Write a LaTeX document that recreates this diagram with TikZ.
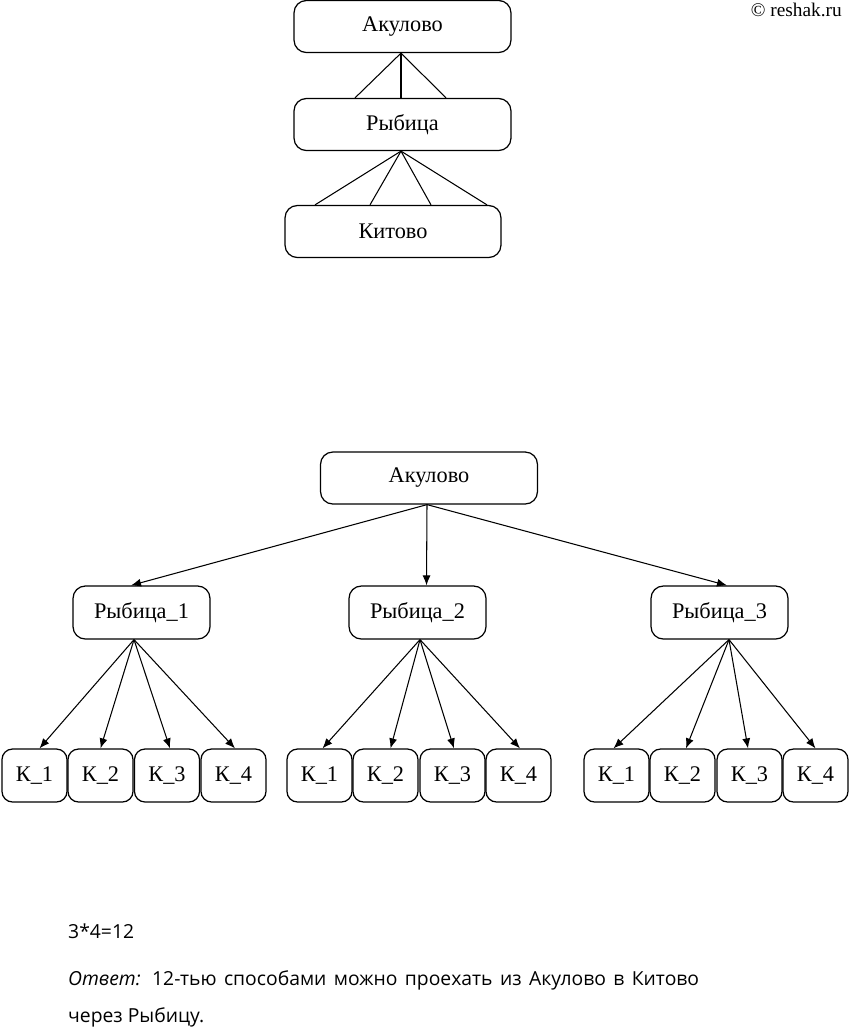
\documentclass[tikz,border=0pt]{standalone}
\usepackage{fontspec}
\setmainfont{Liberation Serif}
\newfontfamily\answerfont{Open Sans}
\usetikzlibrary{arrows.meta,calc}

\begin{document}
\begin{tikzpicture}[
    x=0.02cm, y=-0.02cm,
    town/.style={draw,line width=0.7pt,rounded corners=7pt,inner sep=0pt,font=\fontsize{12.7}{14}\selectfont},
    big/.style={town,minimum width=4.34cm,minimum height=1.04cm},
    mid/.style={town,minimum width=2.74cm,minimum height=1.06cm},
    small/.style={town,minimum width=1.3cm,minimum height=1.06cm,rounded corners=6pt},
    road/.style={line width=0.6pt},
    way/.style={line width=0.6pt,-{Latex[length=0.2cm,width=0.16cm]}},
    answer/.style={anchor=base west,font=\answerfont\fontsize{11}{14}\selectfont}
  ]
  \useasboundingbox (0,0) rectangle (850,1028);

  \node[anchor=base east,font=\fontsize{11}{13}\selectfont] (site) at (848,16) {© reshak.ru};

  % Scheme: one road through Рыбица
  \node[big] (akTop) at (402.5,26.5) {Акулово};
  \node[big] (ryTop) at (402.5,124.5) {Рыбица};
  \node[big,minimum width=4.32cm] (kiTop) at (393,231.5) {Китово};

  \draw[road] ($(akTop.south)+(-1.5,0)$) -- ($(ryTop.north)+(-47.5,0)$);
  \draw[road] ($(akTop.south)+(-1.5,0)$) -- ($(ryTop.north)+(-1.5,0)$);
  \draw[road] ($(akTop.south)+(-1.5,0)$) -- ($(ryTop.north)+(43.5,0)$);

  \draw[road] ($(ryTop.south)+(-1.5,0)$) -- ($(kiTop.north)+(-78,0)$);
  \draw[road] ($(ryTop.south)+(-1.5,0)$) -- ($(kiTop.north)+(-23,0)$);
  \draw[road] ($(ryTop.south)+(-1.5,0)$) -- ($(kiTop.north)+(38,0)$);
  \draw[road] ($(ryTop.south)+(-1.5,0)$) -- ($(kiTop.north)+(94,0)$);

  % Tree: Акулово
  \node[big] (ak) at (429,478) {Акулово};

  % Tree: Рыбица
  \node[mid] (ry1) at (141.5,612.5) {Рыбица\_1};
  \node[mid] (ry2) at (417.5,612.5) {Рыбица\_2};
  \node[mid] (ry3) at (719.5,612.5) {Рыбица\_3};

  % Tree: Китово
  \node[small] (k11) at (34.5,775.5) {К\_1};
  \node[small] (k12) at (100.5,775.5) {К\_2};
  \node[small] (k13) at (167,775.5) {К\_3};
  \node[small] (k14) at (233.5,775.5) {К\_4};

  \node[small] (k21) at (319.5,775.5) {К\_1};
  \node[small] (k22) at (385.5,775.5) {К\_2};
  \node[small] (k23) at (452.5,775.5) {К\_3};
  \node[small] (k24) at (518.5,775.5) {К\_4};

  \node[small] (k31) at (616.5,775.5) {К\_1};
  \node[small] (k32) at (682.5,775.5) {К\_2};
  \node[small] (k33) at (749.5,775.5) {К\_3};
  \node[small] (k34) at (815.5,775.5) {К\_4};

  % Roads from Акулово
  \draw[way] ($(ak.south)+(-2,0)$) -- ($(ry1.north)+(-10.5,0)$);
  \draw[way] ($(ak.south)+(-2,0)$) -- ($(ry2.north)+(9,0)$);
  \draw[way] ($(ak.south)+(-2,0)$) -- ($(ry3.north)+(7.5,0)$);

  % Roads from Рыбица
  \draw[way] ($(ry1.south)+(-7.5,0)$) -- ($(k11.north)+(5,0)$);
  \draw[way] ($(ry1.south)+(-7.5,0)$) -- (k12.north);
  \draw[way] ($(ry1.south)+(-7.5,0)$) -- ($(k13.north)+(3,0)$);
  \draw[way] ($(ry1.south)+(-7.5,0)$) -- ($(k14.north)+(1.5,0)$);

  \draw[way] ($(ry2.south)+(2.5,0)$) -- ($(k21.north)+(3,0)$);
  \draw[way] ($(ry2.south)+(2.5,0)$) -- ($(k22.north)+(5,0)$);
  \draw[way] ($(ry2.south)+(2.5,0)$) -- ($(k23.north)+(1.5,0)$);
  \draw[way] ($(ry2.south)+(2.5,0)$) -- ($(k24.north)+(1.5,0)$);

  \draw[way] ($(ry3.south)+(9.5,0)$) -- ($(k31.north)+(-3,0)$);
  \draw[way] ($(ry3.south)+(9.5,0)$) -- ($(k32.north)+(3.5,0)$);
  \draw[way] ($(ry3.south)+(9.5,0)$) -- ($(k33.north)+(-1.5,0)$);
  \draw[way] ($(ry3.south)+(9.5,0)$) -- (k34.north);

  % Answer
  \node[answer] (count) at (62,938) {3*4=12};
  \node[answer] (reply) at (62,985) {\makebox[12.62cm][s]{\textit{Ответ:} 12-тью способами можно проехать из Акулово в Китово}};
  \node[answer] (reply2) at (62,1022) {через Рыбицу.};
\end{tikzpicture}
\end{document}
